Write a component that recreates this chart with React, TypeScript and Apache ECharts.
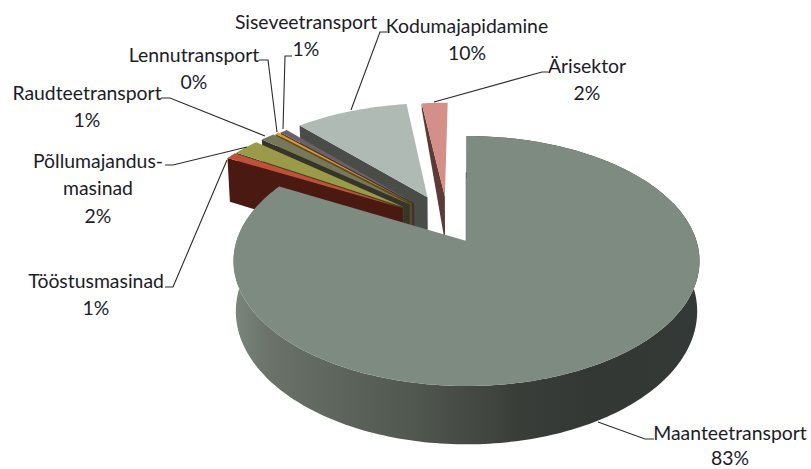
import React, { useEffect, useRef } from "react";
import * as echarts from "echarts";

const sliceNames = ["Maanteetransport", "Tööstusmasinad", "Põllumajandus-\nmasinad", "Raudteetransport", "Lennutransport", "Siseveetransport", "Kodumajapidamine", "Ärisektor"];
const sliceValues = [83, 0.9, 2.2, 1.2, 0.3, 0.6, 9.6, 2.2];
const topColors = ["#7e8b80", "#c0503a", "#9a9a48", "#77775a", "#d89a2c", "#6e6068", "#afbab4", "#d49088"];
const sideColors = ["#6e7a70", "#4a1a12", "#3e3e1e", "#35352a", "#5e4a1a", "#3d3238", "#4a4c48", "#5c3a38"];

const CX = 466.5, CY = 241, RX = 230, RY = 121.8, K = 0.16, DEPTH = 49, SHRINK = 0.01;
const explodeU = [0, -0.29, -0.284, -0.26, -0.25, -0.24, -0.18, -0.1];
const explodeV = [0, 0.283, 0.29, 0.318, 0.325, 0.328, 0.38, 0.388];
const outerDepth = [1, 1, 1, 1, 1, 1, 1, 0.15];

const labelPos: number[][] = [[730, 432], [96, 280], [98, 160], [87, 92], [194, 54], [306, 21], [467, 25], [587, 65]];
const leaders: number[][][] = [
  [[654, 439], [645, 439], [598, 422]],
  [[165, 287], [173, 287], [227, 160]],
  [[165, 165], [173, 165], [247, 147]],
  [[161, 98], [170, 98], [265, 136]],
  [[259, 60], [268, 60], [277, 132]],
  [[292, 56], [285, 56], [283, 129]],
  [[387, 32], [380, 32], [351, 110]],
  [[548, 72], [542, 72], [434, 102]],
];

function project(u: number, v: number, h: number): number[] {
  const w = 1 + K * v;
  return [CX + (RX * u / w) * (1 - h * SHRINK), CY - RY * v / w + h * DEPTH / w];
}

function angleSpan(i: number): number[] {
  const total = sliceValues.reduce((a, b) => a + b, 0);
  let sum = 0;
  for (let k = 0; k < i; k++) sum += sliceValues[k];
  return [(sum / total) * Math.PI * 2, ((sum + sliceValues[i]) / total) * Math.PI * 2];
}

function renderItem(params: any, api: any) {
  const i = api.value(1);
  const [a0, a1] = angleSpan(i);
  const u0 = explodeU[i], v0 = explodeV[i];
  const n = Math.max(3, Math.ceil((a1 - a0) / 0.02));
  const arc = (h: number) => {
    const pts: number[][] = [];
    for (let s = 0; s <= n; s++) {
      const a = a0 + ((a1 - a0) * s) / n;
      pts.push(project(u0 + Math.sin(a), v0 + Math.cos(a), h));
    }
    return pts;
  };
  const children: any[] = [];
  if (i === 0) {
    children.push({
      type: "polygon",
      shape: { points: [...arc(0), ...arc(1).reverse()] },
      style: {
        fill: new echarts.graphic.LinearGradient(236, 0, 699, 0, [
          { offset: 0, color: "#7a857c" },
          { offset: 0.07, color: "#6a7269" },
          { offset: 0.4, color: "#4f564e" },
          { offset: 0.61, color: "#3a3e39" },
          { offset: 0.76, color: "#343835" },
          { offset: 1, color: "#333936" },
        ], true),
      },
    });
  } else {
    const sa = Math.sin(a0), ca = Math.cos(a0);
    children.push({
      type: "polygon",
      shape: {
        points: [
          project(u0 + sa, v0 + ca, 0),
          project(u0, v0, 0),
          project(u0, v0, 1),
          project(u0 + sa, v0 + ca, outerDepth[i]),
        ],
      },
      style: { fill: sideColors[i] },
    });
  }
  children.push({
    type: "polygon",
    shape: { points: [project(u0, v0, 0), ...arc(0)] },
    style: { fill: topColors[i] },
  });
  if (i === 0) {
    const [lx0, ly0] = project(0, 0, 0);
    const [lx1, ly1] = project(0, 0.62, 0);
    children.push({
      type: "line",
      shape: { x1: lx0 - 0.3, y1: ly0, x2: lx1 - 0.3, y2: ly1 },
      style: { stroke: "#3a3f3b", lineWidth: 0.7 },
    });
  }
  return { type: "group", children };
}

const paintOrder = [7, 6, 5, 4, 3, 2, 1, 0];

export default function App() {
  const ref = useRef<HTMLDivElement>(null);
  useEffect(() => {
    const chart = echarts.init(ref.current!, undefined, { renderer: "svg" });
    const lines = leaders.map((pts) => ({
      type: "polyline",
      shape: { points: pts },
      style: { stroke: "#2b2b2b", lineWidth: 1.1, fill: "none" },
      z: 5,
    }));
    const texts = sliceNames.flatMap((name, i) =>
      [...name.split("\n"), `${Math.round(sliceValues[i])}%`].map((line, j) => ({
        type: "text",
        x: labelPos[i][0],
        y: Math.min(labelPos[i][1] + j * 27.5, 457),
        style: {
          text: line,
          align: "center",
          verticalAlign: "middle",
          font: "19.4px Lato",
          fill: "#1c1c28",
        },
        z: 6,
      }))
    );
    chart.setOption({
      animation: false,
      backgroundColor: "#ffffff",
      series: [
        {
          type: "custom",
          coordinateSystem: "none",
          renderItem,
          silent: true,
          data: paintOrder.map((i) => [sliceValues[i], i]),
        },
      ],
      graphic: [...lines, ...texts],
    });
    return () => chart.dispose();
  }, []);
  return <div ref={ref} style={{ position: "absolute", left: 0, top: 0, width: 811, height: 469 }} />;
}
